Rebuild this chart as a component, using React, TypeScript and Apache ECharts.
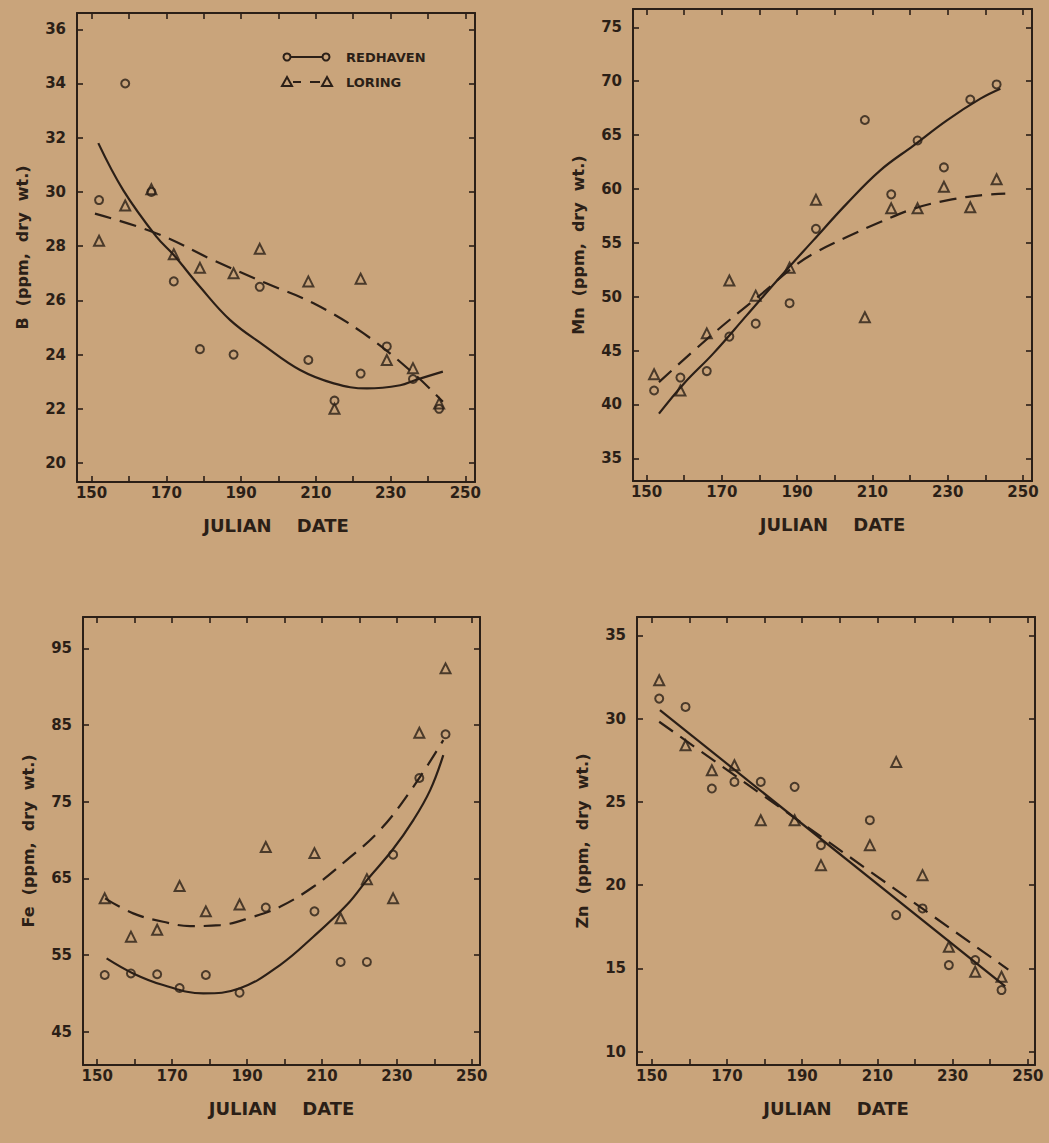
import React, { useEffect, useRef } from "react";
import * as echarts from "echarts";

// ---------- data ----------
const dates = [152, 159, 166, 172, 179, 188, 195, 208, 215, 222, 229, 236, 243];
const xTickValues = [150, 160, 170, 180, 190, 200, 210, 220, 230, 240, 250];
const xLabelValues = [150, 170, 190, 210, 230, 250];

// Boron
const bRedhaven = [29.7, 34.0, 30.0, 26.7, 24.2, 24.0, 26.5, 23.8, 22.3, 23.3, 24.3, 23.1, 22.0];
const bLoring = [28.2, 29.5, 30.1, 27.7, 27.2, 27.0, 27.9, 26.7, 22.0, 26.8, 23.8, 23.5, 22.2];
const bRedhavenFit = [[151.8, 31.8], [158.5, 30.06], [167.4, 28.34], [172, 27.67], [179, 26.5], [187.1, 25.27], [196, 24.35], [205.8, 23.43], [214.8, 22.94], [223.7, 22.75], [232.6, 22.87], [236.7, 23.06], [244, 23.37]];
const bLoringFit = [[150.9, 29.2], [167.4, 28.47], [182.6, 27.48], [196.9, 26.62], [209.4, 25.89], [222.8, 24.78], [236.2, 23.3], [244, 22.26]];
const bTicks = [20, 22, 24, 26, 28, 30, 32, 34, 36];

// Manganese
const mnRedhaven = [41.3, 42.5, 43.1, 46.3, 47.5, 49.4, 56.3, 66.4, 59.5, 64.5, 62.0, 68.3, 69.7];
const mnLoring = [42.8, 41.3, 46.6, 51.5, 50.1, 52.7, 59.0, 48.1, 58.2, 58.2, 60.2, 58.3, 60.9];
const mnRedhavenFit = [[153.3, 39.15], [159.9, 41.93], [167.7, 44.72], [176.6, 48.27], [185.5, 51.83], [194.3, 55.23], [203.2, 58.64], [212.1, 61.73], [221, 64.05], [229.8, 66.37], [238.7, 68.38], [244, 69.3]];
const mnLoringFit = [[153.3, 42.08], [167.7, 46.57], [180.1, 50.13], [189, 52.76], [194.3, 54.0], [203.2, 55.54], [212.1, 56.93], [221, 58.17], [229.8, 58.94], [238.7, 59.41], [245.3, 59.57]];
const mnTicks = [35, 40, 45, 50, 55, 60, 65, 70, 75];

// Iron
const feRedhaven = [52.4, 52.6, 52.5, 50.7, 52.4, 50.1, 61.2, 60.7, 54.1, 54.1, 68.1, 78.1, 83.8];
const feLoring = [62.4, 57.4, 58.3, 64.0, 60.7, 61.6, 69.1, 68.3, 59.8, 64.9, 62.4, 84.0, 92.4];
const feRedhavenFit = [[152.5, 54.57], [159.6, 52.61], [167.6, 51.09], [178.3, 50.0], [188.1, 50.66], [198.8, 53.7], [207.7, 57.39], [216.6, 61.52], [222, 64.78], [228.8, 68.7], [234.4, 72.61], [238.9, 76.52], [242.4, 81.08]];
const feLoringFit = [[152.1, 62.4], [159.6, 60.44], [167.6, 59.35], [174.8, 58.78], [182.8, 58.91], [191.7, 60.0], [198.8, 61.3], [207.7, 63.91], [216.6, 67.39], [225.5, 71.3], [234.4, 76.95], [242.4, 83.04]];
const feTicks = [45, 55, 65, 75, 85, 95];

// Zinc
const znRedhaven = [31.2, 30.7, 25.8, 26.2, 26.2, 25.9, 22.4, 23.9, 18.2, 18.6, 15.2, 15.5, 13.7];
const znLoring = [32.3, 28.4, 26.9, 27.2, 23.9, 23.9, 21.2, 22.4, 27.4, 20.6, 16.3, 14.8, 14.5];
const znRedhavenFit = [[152.2, 30.51], [244, 13.92]];
const znLoringFit = [[152, 29.81], [244.8, 14.93]];
const znTicks = [10, 15, 20, 25, 30, 35];

// ---------- layout / style ----------
const INK = "#2b1f17";
const PAPER = "#c9a47b";
const FONT = "DejaVu Sans";

const panels = [
  { grid: { left: 77, top: 13, width: 398, height: 469 }, xMin: 146.1, xMax: 252.6, yMin: 19.3, yMax: 36.6, yTicks: bTicks, yName: "B  (ppm,  dry  wt.)", red: bRedhaven, lor: bLoring, redFit: bRedhavenFit, lorFit: bLoringFit },
  { grid: { left: 633, top: 9, width: 399, height: 472 }, xMin: 146.4, xMax: 252.4, yMin: 32.9, yMax: 76.7, yTicks: mnTicks, yName: "Mn  (ppm,  dry  wt.)", red: mnRedhaven, lor: mnLoring, redFit: mnRedhavenFit, lorFit: mnLoringFit },
  { grid: { left: 83, top: 617, width: 397, height: 448 }, xMin: 146.2, xMax: 252.2, yMin: 40.66, yMax: 99.1, yTicks: feTicks, yName: "Fe  (ppm,  dry  wt.)", red: feRedhaven, lor: feLoring, redFit: feRedhavenFit, lorFit: feLoringFit },
  { grid: { left: 637, top: 617, width: 398, height: 448 }, xMin: 146.1, xMax: 251.9, yMin: 9.2, yMax: 36.1, yTicks: znTicks, yName: "Zn  (ppm,  dry  wt.)", red: znRedhaven, lor: znLoring, redFit: znRedhavenFit, lorFit: znLoringFit },
];

function buildOption() {
  const grids: any[] = [];
  const xAxes: any[] = [];
  const yAxes: any[] = [];
  const series: any[] = [];
  const axisLine = { show: true, onZero: false, lineStyle: { color: INK, width: 2 } };
  const labelStyle = { color: INK, fontFamily: FONT, fontWeight: "bold", fontSize: 15 };
  const tickStyle = { color: INK, width: 1.6 };

  panels.forEach((p, i) => {
    grids.push({ ...p.grid, containLabel: false });
    xAxes.push({
      type: "value", gridIndex: i, position: "bottom", min: p.xMin, max: p.xMax,
      axisLine, splitLine: { show: false },
      axisTick: { show: true, inside: true, length: 6, customValues: xTickValues, lineStyle: tickStyle },
      axisLabel: { show: true, customValues: xLabelValues, margin: 3, ...labelStyle },
      name: "JULIAN    DATE", nameLocation: "middle", nameGap: 34,
      nameTextStyle: { color: INK, fontFamily: FONT, fontWeight: "bold", fontSize: 18 },
    });
    xAxes.push({
      type: "value", gridIndex: i, position: "top", min: p.xMin, max: p.xMax,
      axisLine, splitLine: { show: false },
      axisTick: { show: true, inside: true, length: 6, customValues: xTickValues, lineStyle: tickStyle },
      axisLabel: { show: false },
    });
    yAxes.push({
      type: "value", gridIndex: i, position: "left", min: p.yMin, max: p.yMax,
      axisLine, splitLine: { show: false },
      axisTick: { show: true, inside: true, length: 6, customValues: p.yTicks, lineStyle: tickStyle },
      axisLabel: { show: true, customValues: p.yTicks, margin: 11, ...labelStyle },
      name: p.yName, nameLocation: "middle", nameGap: 47, nameRotate: 90,
      nameTextStyle: { color: INK, fontFamily: FONT, fontWeight: "bold", fontSize: 16 },
    });
    yAxes.push({
      type: "value", gridIndex: i, position: "right", min: p.yMin, max: p.yMax,
      axisLine, splitLine: { show: false },
      axisTick: { show: true, inside: true, length: 6, customValues: p.yTicks, lineStyle: tickStyle },
      axisLabel: { show: false },
    });

    const xi = i * 2;
    const yi = i * 2;
    series.push({
      type: "line", xAxisIndex: xi, yAxisIndex: yi, data: p.redFit, smooth: 0.4,
      showSymbol: false, symbol: "none", lineStyle: { color: INK, width: 2.2 }, z: 2, silent: true,
    });
    series.push({
      type: "line", xAxisIndex: xi, yAxisIndex: yi, data: p.lorFit, smooth: 0.4,
      showSymbol: false, symbol: "none", lineStyle: { color: INK, width: 2.2, type: [17, 9] }, z: 2, silent: true,
    });
    series.push({
      type: "scatter", xAxisIndex: xi, yAxisIndex: yi, name: "REDHAVEN",
      data: dates.map((d, k) => [d, p.red[k]]), symbol: "circle", symbolSize: 8,
      itemStyle: { color: "rgba(0,0,0,0)", borderColor: INK, borderWidth: 2 }, z: 3,
    });
    series.push({
      type: "scatter", xAxisIndex: xi, yAxisIndex: yi, name: "LORING",
      data: dates.map((d, k) => [d, p.lor[k]]), symbol: "triangle", symbolSize: 10,
      itemStyle: { color: "rgba(0,0,0,0)", borderColor: INK, borderWidth: 2 }, z: 3,
    });
  });

  const tri = (cx: number, cy: number) => ({
    type: "polygon",
    shape: { points: [[cx, cy - 5], [cx + 5, cy + 4], [cx - 5, cy + 4]] },
    style: { fill: "none", stroke: INK, lineWidth: 2 },
  });
  const legendText = { fill: INK, fontFamily: FONT, fontWeight: "bold", fontSize: 13 };
  const graphic = [
    { type: "circle", shape: { cx: 287, cy: 57, r: 3.5 }, style: { fill: "none", stroke: INK, lineWidth: 2 } },
    { type: "line", shape: { x1: 291, y1: 57, x2: 322, y2: 57 }, style: { stroke: INK, lineWidth: 2 } },
    { type: "circle", shape: { cx: 326, cy: 57, r: 3.5 }, style: { fill: "none", stroke: INK, lineWidth: 2 } },
    { type: "text", x: 346, y: 57, style: { text: "REDHAVEN", ...legendText, verticalAlign: "middle" } },
    tri(287, 82),
    { type: "line", shape: { x1: 293, y1: 82, x2: 301, y2: 82 }, style: { stroke: INK, lineWidth: 2 } },
    { type: "line", shape: { x1: 310, y1: 82, x2: 320, y2: 82 }, style: { stroke: INK, lineWidth: 2 } },
    tri(327, 82),
    { type: "text", x: 346, y: 82, style: { text: "LORING", ...legendText, verticalAlign: "middle" } },
  ];

  return {
    animation: false,
    backgroundColor: PAPER,
    grid: grids,
    xAxis: xAxes,
    yAxis: yAxes,
    series,
    graphic,
  };
}

export default function App() {
  const ref = useRef<HTMLDivElement>(null);
  useEffect(() => {
    if (!ref.current) return;
    const chart = echarts.init(ref.current, undefined, { renderer: "svg" });
    chart.setOption(buildOption() as any);
    return () => chart.dispose();
  }, []);
  return (
    <div
      ref={ref}
      style={{ position: "fixed", left: 0, top: 0, width: 1049, height: 1143, background: PAPER }}
    />
  );
}
